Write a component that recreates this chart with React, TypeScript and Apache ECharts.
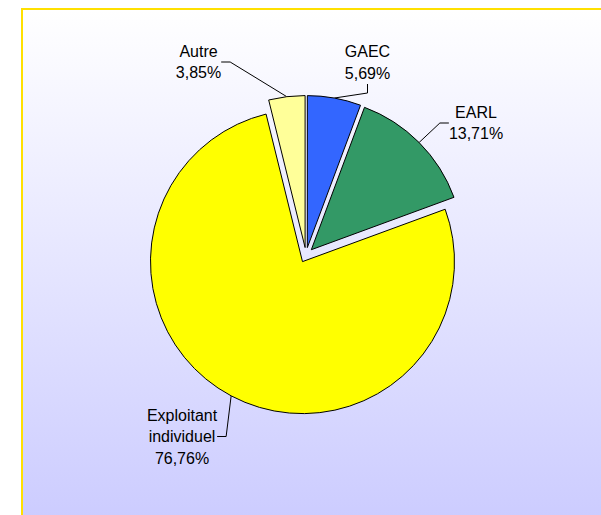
import React, { useEffect, useRef } from "react";
import * as echarts from "echarts";

// ---- data ----
const categories = ["GAEC", "EARL", "Exploitant individuel", "Autre"];
const percents = [5.69, 13.71, 76.76, 3.85];
const sliceColors = ["#3366ff", "#339966", "#ffff00", "#ffff99"];

// ---- layout ----
const CENTER: [number, number] = [306, 255];
const RADIUS = 152;
const EXPLODE = 7.5;
// label block centres, px
const LABEL_POS: [number, number][] = [
  [367.5, 62.5],
  [476, 123],
  [182, 436.5],
  [198.5, 62],
];

const FONT = "'Liberation Sans', Arial, sans-serif";

export default function App() {
  const ref = useRef<HTMLDivElement>(null);

  useEffect(() => {
    if (!ref.current) return;
    const chart = echarts.init(ref.current, undefined, { renderer: "svg" });
    const total = percents.reduce((a, b) => a + b, 0);
    let cum = 0;
    const series = categories.map((_, i) => {
      const mid = ((cum + percents[i] / 2) / total) * Math.PI * 2;
      cum += percents[i];
      const cx = CENTER[0] + EXPLODE * Math.sin(mid);
      const cy = CENTER[1] - EXPLODE * Math.cos(mid);
      return {
        type: "pie",
        center: [cx, cy],
        radius: RADIUS,
        startAngle: 90,
        clockwise: true,
        avoidLabelOverlap: false,
        silent: true,
        emphasis: { disabled: true },
        label: {
          position: "outside",
          color: "#000",
          fontFamily: FONT,
          fontSize: 16,
          lineHeight: 21.5,
          formatter: (p: any) =>
            String(p.name).split(" ").join("\n") +
            "\n" +
            Number(p.value).toFixed(2).replace(".", ",") +
            "%",
        },
        labelLine: {
          length: 10,
          length2: 9,
          lineStyle: { color: "#000", width: 1 },
        },
        labelLayout: (params: any) => {
          const pos = LABEL_POS[params.dataIndex];
          return { x: pos[0], y: pos[1], align: "center", verticalAlign: "middle" };
        },
        data: categories.map((name, j) => {
          const on = j === i;
          return {
            name,
            value: percents[j],
            itemStyle: on
              ? { color: sliceColors[j], borderColor: "#000", borderWidth: 1 }
              : { color: "rgba(0,0,0,0)", borderColor: "rgba(0,0,0,0)", borderWidth: 0 },
            label: { show: on },
            labelLine: { show: on },
          };
        }),
      };
    });
    chart.setOption({ animation: false, series });
    return () => chart.dispose();
  }, []);

  return (
    <div style={{ position: "fixed", left: 0, top: 0, width: 601, height: 515, overflow: "hidden", background: "#fff" }}>
      <div
        style={{
          position: "absolute",
          left: 21,
          top: 8,
          width: 620,
          height: 540,
          boxSizing: "border-box",
          border: "2.5px solid #ffe000",
          background: "linear-gradient(to bottom, #ffffff 0%, #ccccff 95%)",
        }}
      />
      <div ref={ref} style={{ position: "absolute", left: 0, top: 0, width: 601, height: 515 }} />
    </div>
  );
}
